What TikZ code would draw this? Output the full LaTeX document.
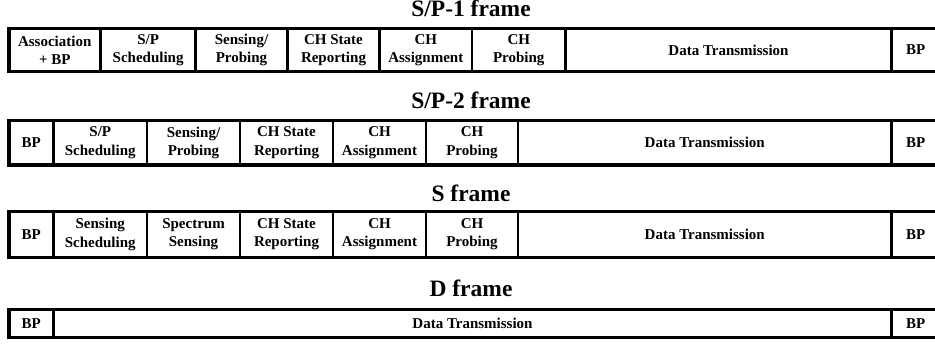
\documentclass[tikz,border=0pt]{standalone}
\usepackage{fontspec}
\setmainfont{Liberation Serif}
\usepackage{tikz}
\usetikzlibrary{calc}

\tikzset{
  cell/.style={draw,line width=2.6pt,inner sep=0pt,outer sep=0pt,align=center,
    font=\fontsize{15}{18.3}\selectfont\bfseries},
  framebox/.style={draw,line width=3.4pt},
  title/.style={anchor=base,inner sep=0pt,font=\fontsize{23.5}{26}\selectfont\bfseries}
}

\begin{document}
\begin{tikzpicture}[x=1pt,y=-1pt]
\useasboundingbox (0,0) rectangle (935,345);

% S/P-1 frame
\node[title] (ta) at (471,17) {S/P-1 frame};
\node[cell,minimum width=91.5pt,minimum height=43pt] (a1) at (54.75,50) {Association\\+ BP};
\node[cell,minimum width=94.8pt,minimum height=43pt] (a2) at (148.1,50) {S/P\\Scheduling};
\node[cell,minimum width=92pt,minimum height=43pt] (a3) at (241.5,50) {Sensing/\\Probing};
\node[cell,minimum width=92pt,minimum height=43pt] (a4) at (333.5,50) {CH State\\Reporting};
\node[cell,minimum width=92.5pt,minimum height=43pt] (a5) at (425.75,50) {CH\\Assignment};
\node[cell,minimum width=93.5pt,minimum height=43pt] (a6) at (518.75,50) {CH\\Probing};
\node[cell,minimum width=326pt,minimum height=43pt] (a7) at (728.5,50) {Data Transmission};
\node[cell,minimum width=48.5pt,minimum height=43pt] (a8) at (915.75,50) {BP};
\draw[framebox] (a1.north west) rectangle (a8.south east);

% S/P-2 frame
\node[title] (tb) at (471,108) {S/P-2 frame};
\node[cell,minimum width=44.5pt,minimum height=44.7pt] (b1) at (31.25,142.65) {BP};
\node[cell,minimum width=93.5pt,minimum height=44.7pt] (b2) at (100.25,142.65) {S/P\\Scheduling};
\node[cell,minimum width=93pt,minimum height=44.7pt] (b3) at (193.5,142.65) {Sensing/\\Probing};
\node[cell,minimum width=93pt,minimum height=44.7pt] (b4) at (286.5,142.65) {CH State\\Reporting};
\node[cell,minimum width=93pt,minimum height=44.7pt] (b5) at (379.5,142.65) {CH\\Assignment};
\node[cell,minimum width=92pt,minimum height=44.7pt] (b6) at (472,142.65) {CH\\Probing};
\node[cell,minimum width=373.5pt,minimum height=44.7pt] (b7) at (704.75,142.65) {Data Transmission};
\node[cell,minimum width=48.5pt,minimum height=44.7pt] (b8) at (915.75,142.65) {BP};
\draw[framebox] (b1.north west) rectangle (b8.south east);

% S frame
\node[title] (tc) at (471,201.5) {S frame};
\node[cell,minimum width=44.5pt,minimum height=45.6pt] (c1) at (31.25,234.5) {BP};
\node[cell,minimum width=93.5pt,minimum height=45.6pt] (c2) at (100.25,234.5) {Sensing\\Scheduling};
\node[cell,minimum width=93pt,minimum height=45.6pt] (c3) at (193.5,234.5) {Spectrum\\Sensing};
\node[cell,minimum width=93pt,minimum height=45.6pt] (c4) at (286.5,234.5) {CH State\\Reporting};
\node[cell,minimum width=93pt,minimum height=45.6pt] (c5) at (379.5,234.5) {CH\\Assignment};
\node[cell,minimum width=92pt,minimum height=45.6pt] (c6) at (472,234.5) {CH\\Probing};
\node[cell,minimum width=373.5pt,minimum height=45.6pt] (c7) at (704.75,234.5) {Data Transmission};
\node[cell,minimum width=48.5pt,minimum height=45.6pt] (c8) at (915.75,234.5) {BP};
\draw[framebox] (c1.north west) rectangle (c8.south east);

% D frame
\node[title] (td) at (471,296.5) {D frame};
\node[cell,minimum width=44.5pt,minimum height=28pt] (d1) at (31.25,323.5) {BP};
\node[cell,minimum width=838pt,minimum height=28pt] (d2) at (472.5,323.5) {Data Transmission};
\node[cell,minimum width=48.5pt,minimum height=28pt] (d3) at (915.75,323.5) {BP};
\draw[framebox] (d1.north west) rectangle (d3.south east);
\end{tikzpicture}
\end{document}
